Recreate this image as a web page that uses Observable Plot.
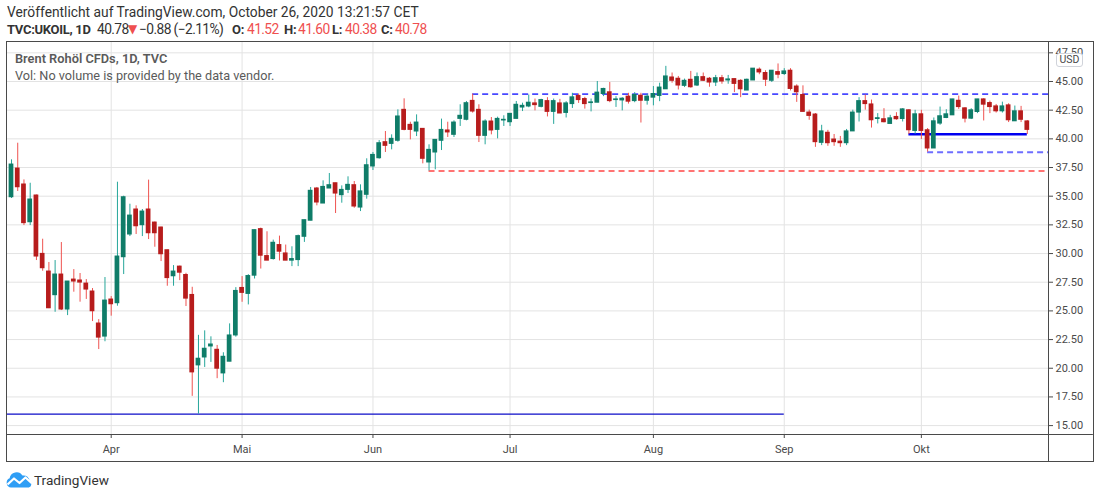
<!DOCTYPE html>
<html><head><meta charset="utf-8">
<script src="https://cdn.jsdelivr.net/npm/d3@7"></script>
<script src="https://cdn.jsdelivr.net/npm/@observablehq/plot@0.6"></script>
<style>
body{margin:0;background:#fff;font-family:Roboto,"Noto Sans",sans-serif;color:#333;}
#wrap{position:relative;width:1100px;height:498px;overflow:hidden;background:#fff;}
.t{position:absolute;white-space:nowrap;}
.h1{left:7px;top:4px;font-size:13.8px;color:#333;}
.h2{top:21px;font-size:13.8px;color:#333;}
.num{letter-spacing:-0.6px;}
.b{font-weight:700;font-size:13px;letter-spacing:-0.3px;top:21.5px;}
.red{color:#ef4f4f;}
.lg1{left:15px;top:51px;font-size:12.8px;color:#5a5a5a;font-weight:600;}
.lg2{left:15px;top:68px;font-size:12.7px;color:#5a5a5a;}
#chart{position:absolute;left:0;top:41px;}
.frame{position:absolute;left:6px;top:41px;width:1088px;height:421px;box-sizing:border-box;border:1px solid #4a4a4a;pointer-events:none;}
.usd{position:absolute;left:1056px;top:53px;width:27px;height:14px;box-sizing:border-box;border:1px solid #d0d3da;border-radius:3px;background:#fff;font-size:10.5px;color:#4a4a4a;text-align:center;line-height:12px;}
.logo{position:absolute;left:6px;top:471px;display:flex;align-items:center;gap:1px;font-size:13.6px;color:#333;}
</style></head><body>
<div id="wrap">
  <div class="t h1">Veröffentlicht auf TradingView.com, October 26, 2020 13:21:57 CET</div>
  <span class="t h2 b" style="left:7px">TVC:UKOIL, 1D</span>
  <span class="t h2 num" style="left:97px">40.78</span>
  <span class="t h2 red" style="left:128px;font-size:12px;top:22px;font-family:'DejaVu Sans'">▼</span>
  <span class="t h2 num" style="left:139px">−0.88 (−2.11%)</span>
  <span class="t h2 b" style="left:232px">O:</span><span class="t h2 red num" style="left:247px">41.52</span>
  <span class="t h2 b" style="left:284px">H:</span><span class="t h2 red num" style="left:298px">41.60</span>
  <span class="t h2 b" style="left:332px">L:</span><span class="t h2 red num" style="left:345px">40.38</span>
  <span class="t h2 b" style="left:381px">C:</span><span class="t h2 red num" style="left:395px">40.78</span>
  <div id="chart"></div>
  <div class="frame"></div>
  <div class="t lg1">Brent Rohöl CFDs, 1D, TVC</div>
  <div class="t lg2">Vol: No volume is provided by the data vendor.</div>
  <div class="usd">USD</div>
  <div class="logo"><svg width="27" height="17" viewBox="0 0 27 17"><path d="M5 16.5 A4.8 4.8 0 0 1 3.6 7.3 A7 7 0 0 1 16.5 4.6 A5.8 5.8 0 0 1 23.5 10.5 A3.2 3.2 0 0 1 22.8 16.5 Z" fill="#2f9ef5"/><polyline points="1.5,13.5 8,7.5 13.5,12 19.5,6.5 25.5,12" stroke="#fff" stroke-width="2.2" fill="none" stroke-linejoin="round"/></svg><span>TradingView</span></div>
</div>
<script>
// ---- data: daily candles TVC:UKOIL, index 0 = first visible session (mid-March 2020) ----
const open = [34.91,37.41,36.02,32.73,35.06,29.97,28.43,26.37,28.17,25.12,
27.73,27.65,27.38,26.69,23.90,22.76,25.99,25.67,29.68,31.66,
33.84,32.47,33.84,32.70,32.27,30.29,28.02,28.86,28.13,26.39,
20.25,20.94,21.90,21.61,19.55,20.57,22.86,27.00,26.48,28.07,
32.13,29.78,29.52,30.74,30.01,29.38,29.43,31.46,32.86,35.67,
34.36,35.67,36.13,35.09,35.55,35.96,34.01,35.12,37.59,38.31,
39.71,39.56,39.83,42.53,41.22,40.64,40.87,37.94,38.81,39.83,
40.73,40.35,41.74,41.66,43.31,42.53,40.26,41.51,40.78,41.60,
41.45,41.74,42.73,42.82,43.09,42.79,43.29,42.35,43.09,42.26,
43.03,43.74,43.47,43.12,43.15,43.91,44.06,43.38,43.35,43.68,
43.29,43.76,43.32,43.59,43.74,44.32,45.35,45.24,44.62,45.15,
44.65,45.38,45.24,44.91,45.29,45.09,45.21,45.06,44.21,45.09,
46.03,45.74,45.06,45.82,45.65,45.94,44.56,43.82,42.29,42.12,
39.65,40.53,39.94,39.76,39.62,40.65,42.29,43.29,43.00,41.73,
41.71,41.30,41.91,41.73,42.49,40.69,42.14,40.75,39.16,41.33,
41.82,42.05,43.32,42.66,41.76,42.34,43.44,43.12,42.83,42.40,
42.92,41.53,42.40,41.52];
const high = [38.17,39.62,36.42,36.13,35.10,31.25,29.22,29.39,30.96,27.56,
28.60,28.26,27.73,26.95,24.24,27.91,26.25,36.22,35.00,34.30,
34.16,33.84,36.40,32.75,32.30,30.30,28.95,28.91,28.28,27.06,
22.87,23.26,22.74,21.99,21.35,23.87,27.03,27.99,28.16,32.04,
32.22,31.90,31.17,31.52,30.74,30.59,31.61,32.91,35.76,35.76,
36.34,36.98,36.13,35.90,36.69,36.28,35.99,38.26,38.81,39.85,
40.64,40.35,42.53,43.49,41.45,42.09,40.87,39.48,39.91,41.72,
41.45,41.57,42.97,43.26,43.90,42.97,41.66,41.86,41.89,42.01,
42.18,43.26,43.11,43.82,43.47,43.45,43.59,43.47,43.44,43.24,
43.97,43.91,43.62,43.47,45.00,44.41,44.91,43.68,43.59,43.97,
44.03,43.97,43.88,44.56,44.85,46.32,45.74,45.44,45.21,45.88,
45.74,45.74,45.35,45.53,45.53,45.53,45.21,45.15,45.21,46.12,
46.18,45.94,45.94,46.53,46.12,46.12,44.71,44.62,42.50,42.21,
41.18,40.74,40.38,40.21,40.82,42.50,43.59,43.82,43.38,42.20,
42.63,42.05,42.28,42.63,42.54,42.49,42.49,40.90,41.82,42.77,
42.54,43.44,43.73,42.72,42.63,43.44,43.50,43.29,43.00,43.20,
43.06,42.86,42.83,41.60];
const low = [34.80,35.41,32.44,32.44,29.39,28.46,25.20,24.88,25.03,24.59,
26.63,25.76,26.00,24.07,21.63,22.31,24.54,25.41,28.17,31.48,
31.66,31.48,31.22,30.55,29.30,27.15,27.15,27.64,25.38,17.55,
16.00,20.07,20.51,19.09,18.74,20.57,22.71,25.75,25.52,27.78,
28.65,29.38,29.43,29.35,29.38,28.86,28.86,30.97,32.86,34.16,
34.36,35.67,33.49,34.39,35.23,33.95,33.66,34.74,37.24,38.23,
38.81,39.04,39.71,40.70,39.91,40.20,37.82,37.20,37.30,38.98,
40.12,40.12,41.08,41.57,42.24,39.68,39.48,40.35,40.00,41.08,
41.08,41.74,42.38,42.71,42.44,42.70,41.91,41.26,42.21,41.82,
42.65,43.09,42.59,42.35,43.15,43.68,43.15,42.74,42.44,43.03,
43.15,41.38,42.94,42.88,43.24,44.32,44.85,44.26,44.47,44.41,
44.56,45.00,44.50,44.56,44.76,44.76,44.03,43.59,44.21,45.09,
45.59,44.56,44.91,45.24,45.53,44.18,43.18,42.35,41.62,39.26,
39.41,39.35,39.35,39.26,39.41,40.65,41.47,42.50,40.94,41.30,
41.39,41.30,41.62,41.47,40.38,40.40,39.94,38.84,39.16,41.18,
41.76,42.05,42.57,41.39,41.68,42.20,41.56,42.20,42.25,42.25,
41.42,41.53,41.42,40.38];
const close = [37.76,35.78,32.65,34.71,29.74,28.72,25.23,28.17,25.12,27.56,
27.56,27.47,26.86,24.97,22.67,25.90,25.58,29.74,34.91,33.31,
32.38,33.66,31.77,31.77,29.94,27.86,28.43,28.33,26.07,19.64,
20.83,21.70,22.07,19.96,21.00,22.86,26.74,26.57,28.04,32.04,
29.81,29.38,30.94,30.16,29.38,29.52,31.52,32.91,35.47,34.45,
35.81,35.96,35.23,35.55,35.99,34.10,35.42,37.70,38.60,39.62,
39.39,40.00,41.95,40.78,40.78,41.42,38.26,39.04,39.91,40.78,
40.56,41.42,42.01,43.11,42.38,40.26,41.51,40.73,41.74,41.66,
42.18,42.97,42.88,43.15,42.94,43.38,42.35,43.29,42.21,43.09,
43.62,43.38,43.03,43.18,44.03,44.35,43.29,43.44,43.50,43.24,
43.82,43.32,43.68,43.91,44.47,45.44,45.06,44.65,45.06,44.50,
45.38,45.06,44.91,45.29,45.00,45.18,44.79,44.32,45.15,46.12,
45.79,45.15,45.94,45.59,45.88,44.35,44.06,42.35,42.00,39.71,
40.65,39.62,39.71,39.62,40.65,42.29,43.29,43.03,41.62,41.80,
41.45,41.79,41.71,42.57,40.75,42.14,40.69,39.16,41.53,41.97,
42.14,43.44,42.77,41.76,42.49,43.44,42.98,42.77,42.40,42.83,
41.62,42.40,41.66,40.78];

// first session of each month (candle index) and its label
const monthStart = [16, 37, 58, 80, 103, 124, 146];
const monthLabels = ["Apr", "Mai", "Jun", "Jul", "Aug", "Sep", "Okt"];
// price axis ticks
const priceTicks = [15, 17.5, 20, 22.5, 25, 27.5, 30, 32.5, 35, 37.5, 40, 42.5, 45, 47.5];
// drawn horizontal levels: price, first candle, last candle (null = extends to the right edge)
const levelPrice = [16.00, 43.90, 37.20, 38.84, 40.40];
const levelFrom  = [-2, 74, 67, 147, 144];
const levelTo    = [124, null, null, null, 163];

// ---- chart ----
const n = open.length;
const candles = d3.range(n).map(i => ({i, o: open[i], h: high[i], l: low[i], c: close[i]}));
const up = candles.filter(d => d.c >= d.o);
const down = candles.filter(d => d.c < d.o);
const xDom = [-0.642, 166.4];
const yDom = [14.224, 48.487];
const xFar = 173.6, yFar = 11.87;
const lv = levelPrice.map((p, k) => ({p, a: levelFrom[k], b: levelTo[k] == null ? xDom[1] : levelTo[k]}));
const lvStyle = [
  {stroke: "#0c0cc8", strokeWidth: 1.1},
  {stroke: "#4747ff", strokeWidth: 1.6, strokeDasharray: "6,4"},
  {stroke: "#ff4646", strokeWidth: 1.4, strokeDasharray: "6,4"},
  {stroke: "#6e6eff", strokeWidth: 2, strokeDasharray: "6,4"},
  {stroke: "#0000f0", strokeWidth: 2.6}
];
const half = 0.38;
const chart = Plot.plot({
  width: 1100, height: 420,
  marginLeft: 7, marginRight: 52, marginTop: 0, marginBottom: 27,
  x: {type: "linear", domain: xDom},
  y: {domain: yDom},
  style: {fontFamily: "Roboto, 'Noto Sans', sans-serif", fontSize: "11px", color: "#4a4a4a", background: "transparent", overflow: "visible"},
  marks: [
    Plot.gridY(priceTicks, {stroke: "#e3e3e3", strokeOpacity: 1}),
    Plot.gridX(monthStart, {stroke: "#e3e3e3", strokeOpacity: 1}),
    ...lv.map((d, k) => Plot.ruleY([d], {y: "p", x1: "a", x2: "b", clip: true, ...lvStyle[k]})),
    Plot.ruleX(up, {x: "i", y1: "l", y2: "h", stroke: "#26a69a", strokeWidth: 1}),
    Plot.ruleX(down, {x: "i", y1: "l", y2: "h", stroke: "#ef5350", strokeWidth: 1}),
    Plot.rect(up, {x1: d => d.i - half, x2: d => d.i + half, y1: "o", y2: "c", fill: "#0f7c68", insetTop: -0.5, insetBottom: -0.5}),
    Plot.rect(down, {x1: d => d.i - half, x2: d => d.i + half, y1: "o", y2: "c", fill: "#b71c1c", insetTop: -0.5, insetBottom: -0.5}),
    Plot.axisY(priceTicks, {anchor: "right", tickFormat: d => d.toFixed(2), tickSize: 4, tickPadding: 3, label: null, stroke: "#4a4a4a", fill: "#4a4a4a"}),
    Plot.axisX(monthStart, {anchor: "bottom", tickFormat: d => monthLabels[monthStart.indexOf(d)], tickSize: 4, tickPadding: 7, label: null, stroke: "#4a4a4a", fill: "#4a4a4a"}),
    Plot.ruleY([yDom[0]], {x1: xDom[0], x2: xFar, stroke: "#4a4a4a"}),
    Plot.ruleX([xDom[1]], {y1: yDom[1], y2: yFar, stroke: "#4a4a4a"})
  ]
});
document.getElementById("chart").appendChild(chart);
</script>
</body></html>
